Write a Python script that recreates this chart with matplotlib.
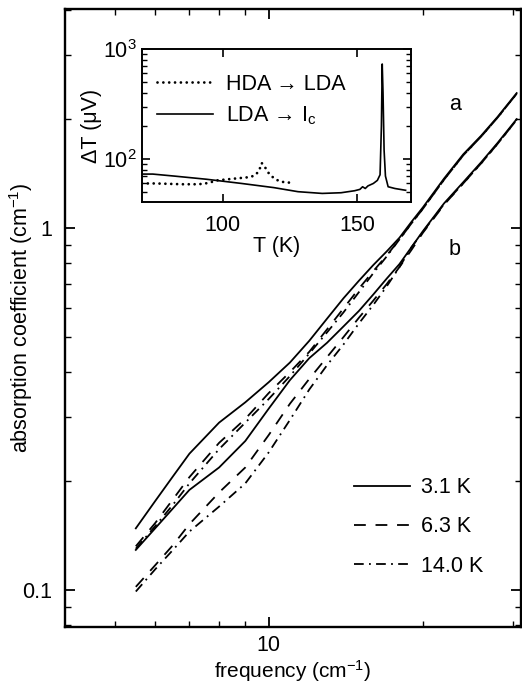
import matplotlib
matplotlib.use("Agg")
import matplotlib.pyplot as plt
from matplotlib.ticker import FixedLocator, NullFormatter

plt.rcParams['font.family'] = ['Liberation Sans', 'DejaVu Sans']
plt.rcParams['mathtext.fontset'] = 'custom'
plt.rcParams['mathtext.rm'] = 'Liberation Sans'
plt.rcParams['mathtext.it'] = 'Liberation Sans:italic'
plt.rcParams['lines.scale_dashes'] = False

# main panel: absorption vs frequency, two samples (a, b) at three temperatures
freq = [5.5, 6, 6.5, 7, 8, 9, 10, 11, 12, 13, 14, 15, 16, 17, 18, 19, 20, 22, 24, 26, 28, 30.5]

a_3K1 = [0.148, 0.176, 0.206, 0.238, 0.29, 0.33, 0.375, 0.425, 0.488, 0.562, 0.64, 0.715,
         0.79, 0.862, 0.94, 1.04, 1.14, 1.37, 1.60, 1.80, 2.03, 2.36]
a_6K3 = [0.132, 0.153, 0.178, 0.205, 0.255, 0.297, 0.35, 0.40, 0.455, 0.525, 0.60, 0.68,
         0.76, 0.84, 0.93, 1.03, 1.13, 1.36, 1.59, 1.79, 2.02, 2.35]
a_14K0 = [0.13, 0.15, 0.172, 0.197, 0.245, 0.29, 0.337, 0.39, 0.45, 0.515, 0.585, 0.665,
          0.75, 0.835, 0.93, 1.03, 1.13, 1.36, 1.59, 1.79, 2.02, 2.35]

b_3K1 = [0.129, 0.148, 0.168, 0.189, 0.218, 0.258, 0.317, 0.38, 0.437, 0.482, 0.535, 0.59,
         0.655, 0.725, 0.795, 0.885, 0.98, 1.17, 1.34, 1.52, 1.72, 2.0]
b_6K3 = [0.102, 0.117, 0.133, 0.152, 0.186, 0.218, 0.268, 0.327, 0.383, 0.44, 0.50, 0.565,
         0.63, 0.70, 0.78, 0.87, 0.97, 1.16, 1.33, 1.51, 1.71, 1.99]
b_14K0 = [0.099, 0.114, 0.129, 0.145, 0.17, 0.197, 0.24, 0.295, 0.358, 0.418, 0.477, 0.545,
          0.613, 0.69, 0.78, 0.885, 0.975, 1.165, 1.33, 1.51, 1.71, 1.99]

temp_labels = ['3.1 K', '6.3 K', '14.0 K']

# inset: DTA signal vs temperature
T_lda = [70, 74, 82, 94, 107, 119, 128, 137, 144, 149, 151, 152, 153, 154, 156, 157.5,
         158.5, 159, 159.3, 159.6, 160, 160.5, 161.5, 164, 168]
dT_lda = [73, 73, 70, 65.5, 60, 55, 50.5, 48.7, 49.4, 51.5, 53, 56, 54, 57, 60, 64,
          72, 200, 730, 400, 120, 70, 56, 54, 52]
T_hda = [70, 75, 80, 85, 90, 93, 96, 98, 102, 106, 110, 112, 113.5, 114.5, 115.5, 117,
         119, 121, 123, 125]
dT_hda = [60, 60, 59.5, 59, 59, 59.5, 62, 64, 65.5, 67, 68.5, 71, 78, 92, 86, 75,
          67, 63, 61.5, 61]

FS = 15.5
solid = '-'
dashed = (0, (8.5, 7))
dashdot = (0, (7, 3.8, 1.3, 3.8))
styles = [solid, dashed, dashdot]

fig = plt.figure(figsize=(5.22, 6.83), dpi=100)
ax = fig.add_axes([65 / 522, 1 - 627 / 683, 456 / 522, 618 / 683])

for vals, ls, lab in zip([a_3K1, a_6K3, a_14K0], styles, temp_labels):
    ax.plot(freq, vals, color='black', lw=1.3, linestyle=ls, label=lab)
for vals, ls in zip([b_3K1, b_6K3, b_14K0], styles):
    ax.plot(freq, vals, color='black', lw=1.3, linestyle=ls)

ax.set_xscale('log')
ax.set_yscale('log')
ax.set_xlim(4.0, 31.1)
ax.set_ylim(0.079, 4.03)

ax.xaxis.set_major_locator(FixedLocator([10]))
ax.xaxis.set_minor_locator(FixedLocator([5, 6, 7, 8, 9, 20, 30]))
ax.set_xticklabels(['10'])
ax.xaxis.set_minor_formatter(NullFormatter())
ax.yaxis.set_major_locator(FixedLocator([0.1, 1]))
ax.yaxis.set_minor_locator(FixedLocator([0.08, 0.09, 0.2, 0.3, 0.4, 0.5, 0.6, 0.7, 0.8, 0.9, 2, 3, 4]))
ax.set_yticklabels(['0.1', '1'])
ax.yaxis.set_minor_formatter(NullFormatter())

ax.tick_params(which='both', direction='in', top=True, right=True, labelsize=FS)
ax.tick_params(which='major', length=7, width=1.3)
ax.tick_params(which='minor', length=4, width=1.0)
ax.tick_params(axis='x', pad=6)
ax.tick_params(axis='y', pad=9)
for s in ax.spines.values():
    s.set_linewidth(1.7)

ax.set_xlabel('frequency (cm$^{-1}$)', fontsize=15)
ax.set_ylabel('absorption coefficient (cm$^{-1}$)', fontsize=FS)
ax.xaxis.set_label_coords(0.5, -0.05)
ax.yaxis.set_label_coords(-0.065, 0.5)

ax.text(23.1, 2.2, 'a', fontsize=FS, ha='center', va='center')
ax.text(23.1, 0.87, 'b', fontsize=FS, ha='center', va='center')

ax.legend(loc='upper left', bbox_to_anchor=(0.61, 0.26), frameon=False, fontsize=FS,
          handlelength=2.6, handletextpad=0.5, labelspacing=0.85, borderpad=0)

# inset
ins = fig.add_axes([142 / 522, 1 - 202 / 683, 269 / 522, 153 / 683])
ins.plot(T_hda, dT_hda, color='black', lw=2.0, linestyle=(0, (0.01, 4.2)),
         dash_capstyle='round', label='HDA \u2192 LDA')
ins.plot(T_lda, dT_lda, color='black', lw=1.2, label='LDA \u2192 I$_\\mathrm{c}$')
ins.set_yscale('log')
ins.set_xlim(70, 170)
ins.set_ylim(40.7, 1000)
ins.set_xticks([100, 150])
ins.xaxis.set_minor_locator(FixedLocator([]))
ins.yaxis.set_major_locator(FixedLocator([100, 1000]))
ins.set_yticklabels(['10$^2$', '10$^3$'])
ins.yaxis.set_minor_locator(FixedLocator([50, 60, 70, 80, 90, 200, 300, 400, 500, 600, 700, 800, 900]))
ins.yaxis.set_minor_formatter(NullFormatter())
ins.tick_params(which='both', direction='in', top=True, right=True, labelsize=FS)
ins.tick_params(which='major', length=6, width=1.2)
ins.tick_params(which='minor', length=3.5, width=1.0)
ins.tick_params(axis='x', pad=9)
ins.tick_params(axis='y', pad=4)
for s in ins.spines.values():
    s.set_linewidth(1.4)
ins.set_xlabel('T (K)', fontsize=FS)
ins.set_ylabel('\u0394T (\u03bcV)', fontsize=FS)
ins.xaxis.set_label_coords(0.5, -0.22)
ins.yaxis.set_label_coords(-0.15, 0.5)
ins.legend(loc='upper left', bbox_to_anchor=(0.015, 0.91), frameon=False, fontsize=FS,
           handlelength=2.6, handletextpad=0.6, labelspacing=0.45, borderpad=0)

fig.savefig('out.png', dpi=100)
